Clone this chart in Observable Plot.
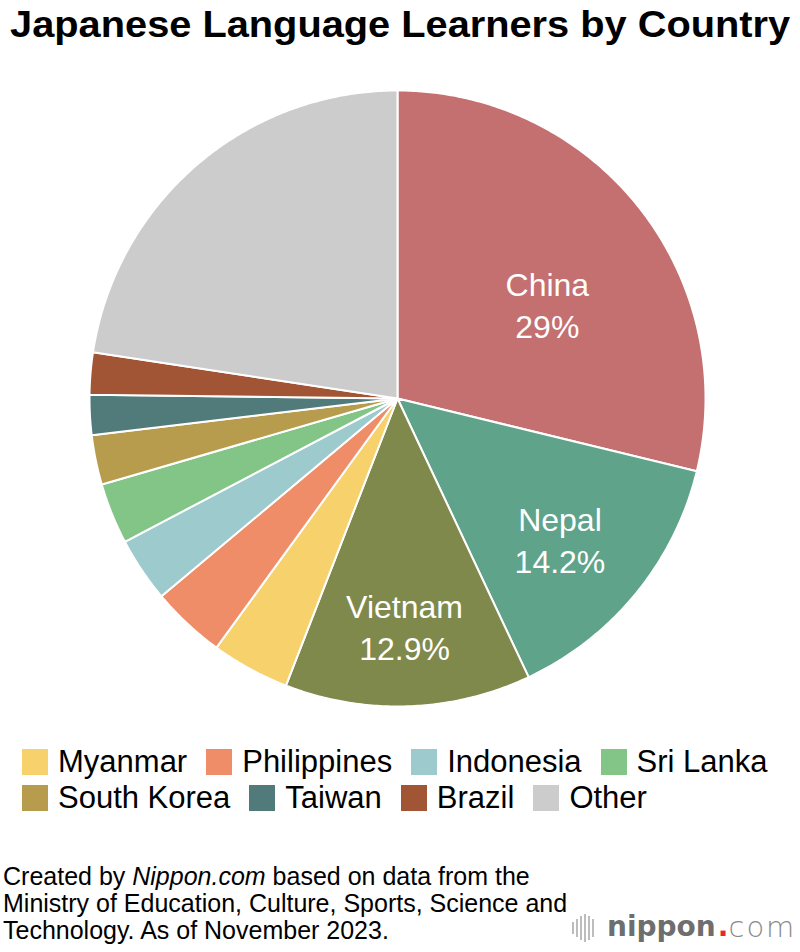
<!DOCTYPE html>
<html><head><meta charset="utf-8">
<script src="https://cdn.jsdelivr.net/npm/d3@7"></script>
<script src="https://cdn.jsdelivr.net/npm/@observablehq/plot@0.6"></script>
<style>
body{margin:0;background:#fff;font-family:"Liberation Sans",Arial,sans-serif;color:#000;}
#root{position:relative;width:800px;height:952px;overflow:hidden;}
#title{position:absolute;top:5px;left:0;width:800px;text-align:center;font-weight:bold;font-size:36px;line-height:40px;white-space:nowrap;}
#title span{display:inline-block;transform-origin:50% 50%;}
#chart{position:absolute;top:60px;left:0;}
#legend{position:absolute;top:744px;left:22px;}
.lrow{display:flex;align-items:center;height:36px;}
.litem{display:flex;align-items:center;margin-right:19px;font-size:31px;white-space:nowrap;}
.sw{width:26px;height:26px;margin-right:10px;flex:none;}
#caption{position:absolute;top:863px;left:3px;font-size:25px;line-height:27px;}
#logo{position:absolute;left:572px;top:910px;display:flex;align-items:flex-end;white-space:nowrap;}
#bars{display:flex;align-items:center;height:32px;margin-right:11px;}
#bars span{display:block;width:2px;background:#bdbdbd;margin-right:2px;}
#logo .np{font-family:"DejaVu Sans",sans-serif;font-weight:bold;font-size:28px;color:#6e6e6e;line-height:34px;}
#logo .dot{font-family:"DejaVu Sans",sans-serif;font-weight:bold;font-size:28px;color:#e8262b;line-height:34px;margin-left:2px;}
#logo .com{font-family:"DejaVu Sans ExtraLight","DejaVu Sans",sans-serif;font-weight:200;font-size:29px;color:#8a8a8a;line-height:34px;letter-spacing:2px;}
</style>
</head><body>
<div id="root">
  <div id="title"><span>Japanese Language Learners by Country</span></div>
  <div id="chart"></div>
  <div id="legend"></div>
  <div id="caption">Created by <i>Nippon.com</i> based on data from the<br>Ministry of Education, Culture, Sports, Science and<br>Technology. As of November 2023.</div>
  <div id="logo"><div id="bars"></div><span class="np">nippon</span><span class="dot">.</span><span class="com">com</span></div>
</div>
<script>
// ---- data ----
const countries = ["China","Nepal","Vietnam","Myanmar","Philippines","Indonesia","Sri Lanka","South Korea","Taiwan","Brazil","Other"];
const shares = [28.8, 14.2, 12.9, 4.1, 3.9, 3.4, 3.2, 2.6, 2.1, 2.2, 22.6];
const shareLabels = ["29%","14.2%","12.9%","","","","","","","",""];
const colors = ["#c46f70","#5fa38b","#80894c","#f6d16c","#ef8d69","#9ccacd","#82c587","#b89c4e","#507b7a","#a25535","#cccccc"];
const labeledCountries = ["China","Nepal","Vietnam"];
const legendCountries = ["Myanmar","Philippines","Indonesia","Sri Lanka","South Korea","Taiwan","Brazil","Other"];

// ---- layout / style ----
const W = 800, H = 660, R = 308, cx = 397, cy = 338;
const labelR = 0.66;
const labelNudge = {China: [-10, 13], Nepal: [5, -6], Vietnam: [0, 6]}; // px

const rows = countries.map((c, i) => ({country: c, share: shares[i], label: shareLabels[i]}));
const arcs = d3.pie().sort(null).value(d => d.share).startAngle(0).endAngle(2 * Math.PI)(rows);

// polygon points for each slice (unit radius; angle clockwise from top)
const pts = [];
for (const a of arcs) {
  const c = a.data.country;
  pts.push({country: c, x: 0, y: 0});
  const n = Math.max(2, Math.ceil((a.endAngle - a.startAngle) / (Math.PI / 360)));
  for (let k = 0; k <= n; k++) {
    const t = a.startAngle + (a.endAngle - a.startAngle) * k / n;
    pts.push({country: c, x: Math.sin(t), y: Math.cos(t)});
  }
  pts.push({country: c, x: 0, y: 0});
}

const labels = arcs.filter(a => labeledCountries.includes(a.data.country)).map(a => {
  const m = (a.startAngle + a.endAngle) / 2;
  const [nx, ny] = labelNudge[a.data.country];
  return {country: a.data.country, label: a.data.label,
          x: labelR * Math.sin(m) + nx / R, y: labelR * Math.cos(m) - ny / R};
});

const chart = Plot.plot({
  width: W, height: H,
  margin: 0,
  x: {domain: [-cx / R, (W - cx) / R], axis: null},
  y: {domain: [-(H - cy) / R, cy / R], axis: null},
  color: {domain: countries, range: colors},
  style: {fontFamily: "'Liberation Sans', Arial, sans-serif", background: "white", overflow: "visible"},
  marks: [
    Plot.line(pts, {x: "x", y: "y", z: "country", fill: "country", stroke: "white", strokeWidth: 2, strokeLinejoin: "round", curve: "linear"}),
    Plot.text(labels, {x: "x", y: "y", text: "country", fill: "white", fontSize: 32, lineAnchor: "middle"}),
    Plot.text(labels, {x: "x", y: "y", text: "label", fill: "white", fontSize: 32, lineAnchor: "middle", dy: 42})
  ]
});
document.getElementById("chart").appendChild(chart);

// title horizontal fit
const ts = document.querySelector("#title span");
ts.style.transform = `scaleX(${780 / ts.getBoundingClientRect().width})`;

// legend
const leg = document.getElementById("legend");
for (let r = 0; r < 2; r++) {
  const row = document.createElement("div");
  row.className = "lrow";
  for (const c of legendCountries.slice(r * 4, r * 4 + 4)) {
    const it = document.createElement("div");
    it.className = "litem";
    const sw = document.createElement("div");
    sw.className = "sw";
    sw.style.background = colors[countries.indexOf(c)];
    it.appendChild(sw);
    it.appendChild(document.createTextNode(c));
    row.appendChild(it);
  }
  leg.appendChild(row);
}
// logo bars
const barHeights = [12, 18, 24, 28, 24, 18];
const bars = document.getElementById("bars");
for (const h of barHeights) { const s = document.createElement("span"); s.style.height = h + "px"; bars.appendChild(s); }
</script>
</body></html>
